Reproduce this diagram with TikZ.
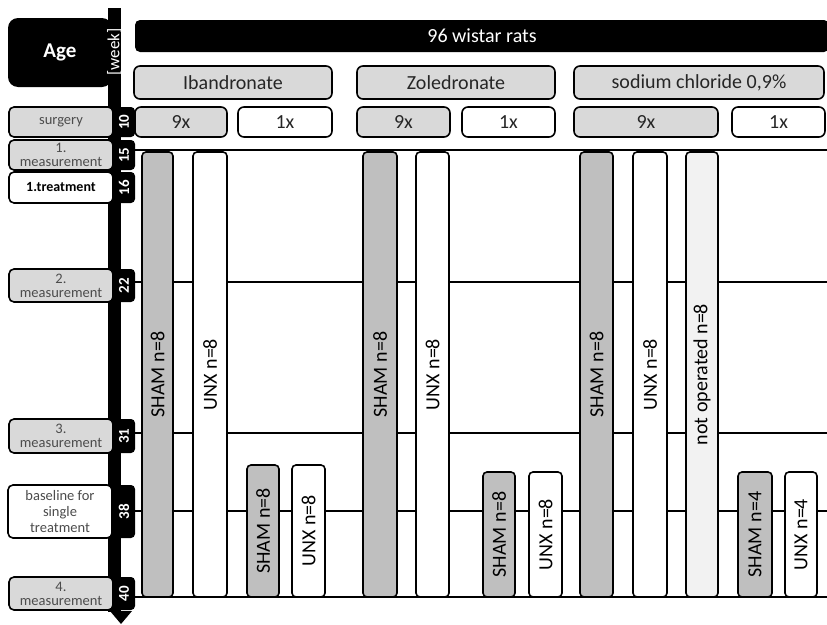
\documentclass[tikz,border=0pt]{standalone}
\usepackage{fontspec}
\setmainfont{Carlito}
\usepackage{tikz}
\definecolor{barGray}{HTML}{BFBFBF}
\definecolor{boxGray}{HTML}{D9D9D9}
\definecolor{paleGray}{HTML}{F2F2F2}

\begin{document}
\begin{tikzpicture}[x=1pt, y=-1pt,
    box/.style={draw, line width=1.6pt, rounded corners=6pt, inner sep=0pt, text=black!85, font=\fontsize{20}{22}\selectfont},
    lab/.style={draw, line width=1.6pt, rounded corners=5pt, fill=boxGray, inner sep=0pt, align=center, minimum width=104pt, text=black!70, font=\fontsize{14.5}{14}\selectfont},
    tab/.style={fill=black, rounded corners=4pt, rotate=90, inner sep=0pt, minimum height=22pt, text=white, font=\bfseries\fontsize{15}{15}\selectfont},
    bar/.style={draw, line width=1.6pt, rounded corners=4pt, rotate=90, inner sep=0pt, font=\fontsize{20}{22}\selectfont},
    rowline/.style={line width=2pt},
]
    \useasboundingbox (0,0) rectangle (827,624);

    % Rows: measurement lines
    \foreach \yy in {150,282,433,511,597}
        \draw[rowline] (135,\yy) -- (827,\yy);

    % Time axis
    \fill (108,8) rectangle (121,612);
    \fill (110,611) -- (132,611) -- (121,624) -- cycle;
    \node[fill=black, rounded corners=10pt, minimum width=104pt, minimum height=69pt, text=white, font=\bfseries\fontsize{21}{22}\selectfont] (age) at (60,52.5) {Age};
    \node[rotate=90, inner sep=0pt, text=white, font=\fontsize{17}{17}\selectfont] (week) at (114.5,52) {[week]};

    % Week tabs
    \node[tab, minimum width=30pt] (t10) at (124,122) {10};
    \node[tab, minimum width=30pt] (t15) at (124,155) {15};
    \node[tab, minimum width=31pt] (t16) at (124,187.5) {16};
    \node[tab, minimum width=33pt] (t22) at (124,285.5) {22};
    \node[tab, minimum width=34pt] (t31) at (124,436) {31};
    \node[tab, minimum width=53pt] (t38) at (124,511.5) {38};
    \node[tab, minimum width=33pt] (t40) at (124,593.5) {40};

    % Time points
    \node[lab, minimum height=30pt] (surgery) at (61,122) {surgery};
    \node[lab, minimum height=30pt] (meas1) at (61,155) {1.\\measurement};
    \node[lab, minimum height=31pt, fill=white, text=black, font=\bfseries\fontsize{14}{14}\selectfont] (treat1) at (61,187.5) {1.treatment};
    \node[lab, minimum height=33pt] (meas2) at (61,285.5) {2.\\measurement};
    \node[lab, minimum height=34pt] (meas3) at (61,436) {3.\\measurement};
    \node[lab, minimum height=53pt, fill=white, font=\fontsize{14.5}{16}\selectfont] (baseline) at (60,511.5) {baseline for\\single\\treatment};
    \node[lab, minimum height=33pt] (meas4) at (61,593.5) {4.\\measurement};

    % Header
    \node[fill=black, rounded corners=5pt, minimum width=694pt, minimum height=32pt, inner sep=0pt, text=white, font=\fontsize{20}{22}\selectfont] (rats) at (482,36) {96 wistar rats};

    % Substances
    \node[box, fill=boxGray, minimum width=198pt, minimum height=33pt] (iban) at (233,82.5) {Ibandronate};
    \node[box, fill=boxGray, minimum width=198pt, minimum height=33pt] (zol) at (456,82.5) {Zoledronate};
    \node[box, fill=boxGray, minimum width=250pt, minimum height=33pt] (nacl) at (699,82.5) {sodium chloride 0,9\%};

    % Dosing
    \node[box, fill=boxGray, minimum width=92pt, minimum height=30pt] (ib9) at (181,122) {9x};
    \node[box, fill=white, minimum width=94pt, minimum height=30pt] (ib1) at (285,122) {1x};
    \node[box, fill=boxGray, minimum width=93pt, minimum height=30pt] (zo9) at (403.5,122) {9x};
    \node[box, fill=white, minimum width=93pt, minimum height=30pt] (zo1) at (508.5,122) {1x};
    \node[box, fill=boxGray, minimum width=144pt, minimum height=30pt] (na9) at (646,122) {9x};
    \node[box, fill=white, minimum width=93pt, minimum height=30pt] (na1) at (778.5,122) {1x};

    % Groups, 9x
    \node[bar, fill=barGray, minimum width=445pt, minimum height=31pt] (ibSham) at (157.5,374.5) {SHAM n=8};
    \node[bar, fill=white, minimum width=445pt, minimum height=34pt] (ibUnx) at (210,374.5) {UNX n=8};
    \node[bar, fill=barGray, minimum width=445pt, minimum height=34pt] (zoSham) at (380,374.5) {SHAM n=8};
    \node[bar, fill=white, minimum width=445pt, minimum height=33pt] (zoUnx) at (432.5,374.5) {UNX n=8};
    \node[bar, fill=barGray, minimum width=445pt, minimum height=33pt] (naSham) at (596.5,374.5) {SHAM n=8};
    \node[bar, fill=white, minimum width=445pt, minimum height=34pt] (naUnx) at (650,374.5) {UNX n=8};
    \node[bar, fill=paleGray, minimum width=445pt, minimum height=32pt] (naNone) at (702,374.5) {not operated n=8};

    % Groups, 1x
    \node[bar, fill=barGray, minimum width=132pt, minimum height=32pt] (ibShamB) at (263,531) {SHAM n=8};
    \node[bar, fill=white, minimum width=132pt, minimum height=33pt] (ibUnxB) at (308.5,531) {UNX n=8};
    \node[bar, fill=barGray, minimum width=125pt, minimum height=32pt] (zoShamB) at (499,534.5) {SHAM n=8};
    \node[bar, fill=white, minimum width=125pt, minimum height=33pt] (zoUnxB) at (545.5,534.5) {UNX n=8};
    \node[bar, fill=barGray, minimum width=125pt, minimum height=34pt] (naShamB) at (755,534.5) {SHAM n=4};
    \node[bar, fill=white, minimum width=125pt, minimum height=32pt] (naUnxB) at (801,534.5) {UNX n=4};
\end{tikzpicture}
\end{document}
